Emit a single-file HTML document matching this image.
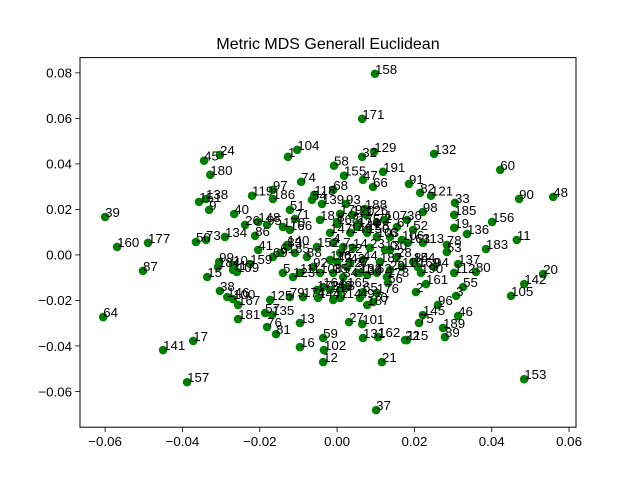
<!DOCTYPE html>
<html><head><meta charset="utf-8">
<style>
html,body{margin:0;padding:0;background:#fff;}
svg{display:block;font-family:"Liberation Sans","DejaVu Sans",sans-serif;}
</style></head>
<body>
<svg id="chart" width="640" height="480" viewBox="0 0 640 480" xmlns="http://www.w3.org/2000/svg">
<rect x="0" y="0" width="640" height="480" fill="#fff"/>
<text x="328" y="49" font-size="16" text-anchor="middle" fill="#000">Metric MDS Generall Euclidean</text>
<g id="points"></g>
<g id="labels"></g>
<g id="axes"></g>
</svg>
<script>
const pointLabels = [158,171,104,1,129,32,132,58,191,155,47,66,74,60,91,82,121,90,48,33,185,98,36,156,19,136,52,11,183,137,112,80,20,142,105,153,55,3,96,145,75,46,189,89,115,2,161,84,169,94,190,53,78,113,22,162,131,101,27,21,37,187,49,114,143,144,59,102,12,16,13,81,76,135,57,181,167,125,79,100,146,38,15,99,184,117,109,10,159,141,17,157,64,87,160,177,39,50,73,134,40,151,138,9,24,45,180,119,97,186,118,54,139,93,68,51,71,179,188,126,18,168,72,107,175,128,148,26,86,95,166,140,41,61,69,5,123,120,8,124,103,6,106,163,67,4,7,14,23,130,28,110,29,62,30,31,34,35,42,43,44,182,56,63,65,70,77,154,83,85,88,92,108,111,116,122,127,133,147,149,150,152,164,165,173,174,176,178,0,170];
const xValues = [0.0098,0.0065,-0.0103,-0.0127,0.0096,0.0065,0.0251,-0.0008,0.0119,0.0018,0.0067,0.0093,-0.0093,0.0422,0.0186,0.0215,0.0243,0.0471,0.0559,0.0305,0.0303,0.0222,0.0181,0.0401,0.0303,0.0336,0.0197,0.0465,0.0385,0.0313,0.0303,0.0359,0.0533,0.0484,0.0450,0.0484,0.0326,0.0308,0.0261,0.0222,0.0212,0.0313,0.0274,0.0279,0.0181,0.0204,0.0230,0.0199,0.0209,0.0251,0.0217,0.0284,0.0284,0.0222,0.0176,0.0106,0.0067,0.0065,0.0031,0.0116,0.0101,0.0078,0.0059,0.0008,-0.0018,-0.0049,-0.0036,-0.0034,-0.0036,-0.0096,-0.0096,-0.0158,-0.0181,-0.0168,-0.0186,-0.0256,-0.0256,-0.0173,-0.0122,-0.0269,-0.0284,-0.0303,-0.0336,-0.0305,-0.0308,-0.0269,-0.0259,-0.0269,-0.0225,-0.0450,-0.0372,-0.0388,-0.0605,-0.0502,-0.0569,-0.0489,-0.0600,-0.0365,-0.0339,-0.0290,-0.0266,-0.0357,-0.0339,-0.0331,-0.0303,-0.0344,-0.0328,-0.0220,-0.0166,-0.0166,-0.0059,-0.0065,-0.0039,0.0023,-0.0010,-0.0122,-0.0109,0.0008,0.0072,0.0075,-0.0044,0.0000,0.0103,0.0124,0.0054,0.0078,-0.0204,-0.0238,-0.0212,-0.0181,-0.0122,-0.0129,-0.0204,-0.0147,-0.0166,-0.0140,-0.0114,
0.0039,0.0000,0.0052,0.0103,0.0137,0.0168,0.0183,0.0155,-0.0010,0.0016,0.0041,0.0085,0.0124,0.0155,0.0168,0.0137,0.0103,0.0078,0.0052,0.0016,-0.0010,0.0000,0.0034,0.0067,0.0111,0.0132,0.0008,0.0067,0.0093,-0.0010,0.0197,-0.0129,-0.0109,-0.0078,-0.0062,-0.0044,-0.0096,-0.0018,0.0008,0.0026,0.0059,-0.0018,0.0034,0.0078,-0.0052,-0.0036,0.0026,-0.0052,-0.0088,0.0103,0.0129,0.0137,-0.0140];
const yValues = [0.0796,0.0598,0.0462,0.0431,0.0453,0.0431,0.0444,0.0392,0.0365,0.0348,0.0330,0.0299,0.0321,0.0374,0.0312,0.0273,0.0260,0.0246,0.0255,0.0229,0.0176,0.0189,0.0154,0.0145,0.0119,0.0092,0.0110,0.0066,0.0026,-0.0040,-0.0079,-0.0075,-0.0084,-0.0128,-0.0180,-0.0546,-0.0141,-0.0180,-0.0220,-0.0264,-0.0299,-0.0268,-0.0321,-0.0361,-0.0374,-0.0163,-0.0128,-0.0031,-0.0053,-0.0053,-0.0079,0.0013,0.0044,0.0053,-0.0374,-0.0361,-0.0365,-0.0304,-0.0295,-0.0471,-0.0682,-0.0220,-0.0189,-0.0189,-0.0154,-0.0189,-0.0365,-0.0418,-0.0471,-0.0405,-0.0299,-0.0348,-0.0317,-0.0264,-0.0255,-0.0282,-0.0220,-0.0198,-0.0185,-0.0194,-0.0185,-0.0158,-0.0097,-0.0031,-0.0053,-0.0066,-0.0075,-0.0044,-0.0040,-0.0418,-0.0378,-0.0559,-0.0273,-0.0070,0.0035,0.0053,0.0167,0.0057,0.0066,0.0079,0.0180,0.0233,0.0246,0.0198,0.0440,0.0414,0.0352,0.0260,0.0286,0.0246,0.0264,0.0242,0.0224,0.0224,0.0286,0.0198,0.0158,0.0180,0.0202,0.0176,0.0154,0.0136,0.0141,0.0154,0.0136,0.0110,0.0145,0.0132,0.0084,0.0132,0.0110,0.0044,0.0022,0.0009,-0.0009,-0.0079,-0.0097,
0.0176,0.0145,0.0123,0.0079,0.0079,0.0066,0.0053,0.0123,0.0053,0.0035,0.0031,0.0031,0.0022,-0.0009,-0.0053,-0.0066,-0.0079,-0.0088,-0.0079,-0.0097,-0.0079,-0.0031,-0.0035,-0.0022,-0.0031,-0.0123,-0.0154,-0.0163,-0.0207,-0.0198,-0.0031,0.0035,0.0009,-0.0009,-0.0053,-0.0079,-0.0079,-0.0022,0.0009,-0.0053,-0.0079,0.0097,0.0097,0.0097,0.0035,-0.0141,-0.0141,-0.0154,-0.0185,-0.0167,-0.0097,0.0022,0.0123];
const xTicks = [-0.06,-0.04,-0.02,0.00,0.02,0.04,0.06];
const yTicks = [-0.06,-0.04,-0.02,0.00,0.02,0.04,0.06,0.08];
const xTickLabels = ["\u22120.06","\u22120.04","\u22120.02","0.00","0.02","0.04","0.06"];
const yTickLabels = ["\u22120.06","\u22120.04","\u22120.02","0.00","0.02","0.04","0.06","0.08"];

const L=80,R=576,T=57.6,B=427.2;
const XMIN=-0.0665,XMAX=0.0618,YMIN=-0.0757,YMAX=0.0867;
function sx(v){return L+(v-XMIN)/(XMAX-XMIN)*(R-L);}
function sy(v){return B-(v-YMIN)/(YMAX-YMIN)*(B-T);}
const NS="http://www.w3.org/2000/svg";
function mk(tag,attrs,parent){const e=document.createElementNS(NS,tag);for(const k in attrs)e.setAttribute(k,attrs[k]);parent.appendChild(e);return e;}
const gp=document.getElementById('points'),gl=document.getElementById('labels'),ga=document.getElementById('axes');
const n=Math.min(pointLabels.length,xValues.length,yValues.length);
for(let i=0;i<n;i++){
  const c=mk('circle',{cx:sx(xValues[i]),cy:sy(yValues[i]),r:4.3,fill:'#008000'},gp);
  
  
}
for(let i=0;i<n;i++){
  const t=mk('text',{x:sx(xValues[i]),y:sy(yValues[i]),'font-size':'13.3',fill:'#000'},gl);
  t.textContent=String(pointLabels[i]);
  
  
}
const frame=mk('rect',{x:L,y:T,width:R-L,height:B-T,fill:'none',stroke:'#000','stroke-width':1},ga);


xTicks.forEach((v,i)=>{
  const x=sx(v);
  const tk=mk('line',{x1:x,x2:x,y1:B,y2:B+4.9,stroke:'#000','stroke-width':0.8},ga);
  
  
  const t=mk('text',{x:x,y:B+19,'font-size':'13.3','text-anchor':'middle',fill:'#000'},ga);
  t.textContent=xTickLabels[i];
  
  
});
yTicks.forEach((v,i)=>{
  const y=sy(v);
  const tk=mk('line',{x1:L-4.9,x2:L,y1:y,y2:y,stroke:'#000','stroke-width':0.8},ga);
  
  
  const t=mk('text',{x:L-8,y:y+4.8,'font-size':'13.3','text-anchor':'end',fill:'#000'},ga);
  t.textContent=yTickLabels[i];
  
  
});
</script>
</body></html>
